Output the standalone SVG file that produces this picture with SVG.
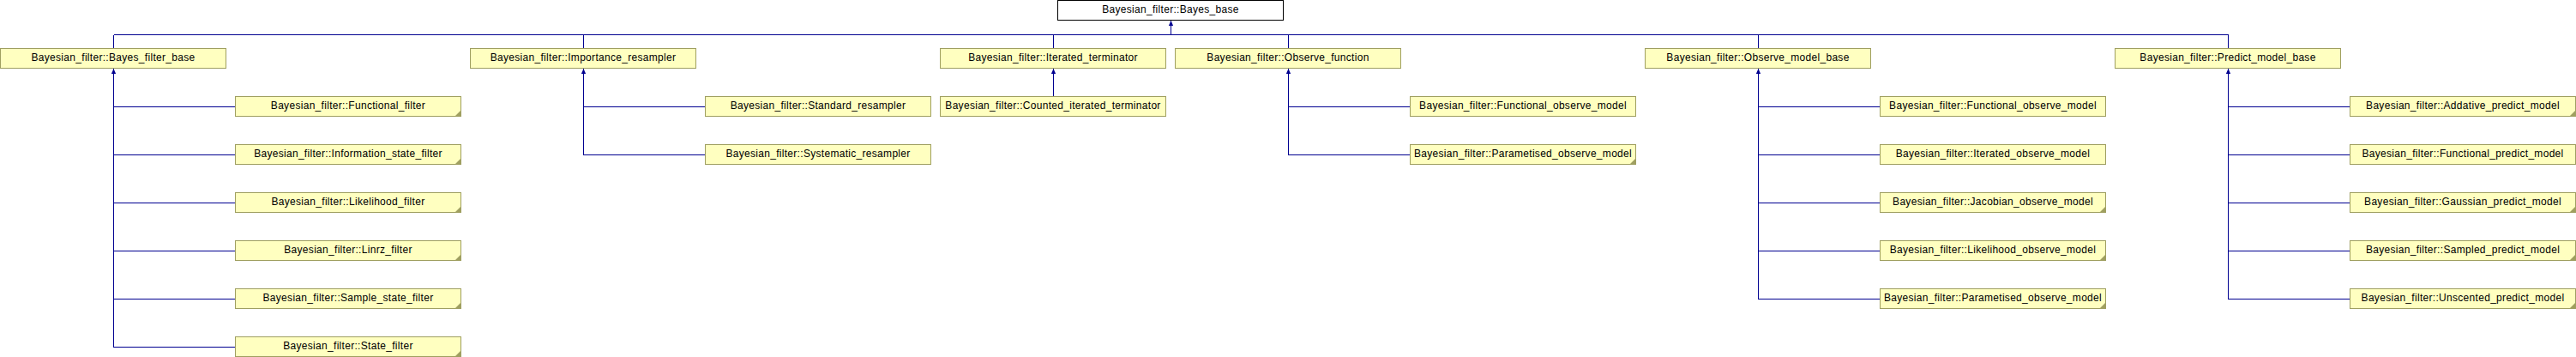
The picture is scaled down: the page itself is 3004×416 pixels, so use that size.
<svg xmlns="http://www.w3.org/2000/svg" xmlns:xlink="http://www.w3.org/1999/xlink" width="3004" height="416" viewBox="0 0 3004 416">
<style>
.n rect{fill:#ffffc0;stroke:#9f9f60;stroke-width:1;shape-rendering:crispEdges}
.root rect{fill:#ffffff;stroke:#000000}
.n text{font-family:"Liberation Sans",Arial,sans-serif;font-size:12px;letter-spacing:0.3px;text-anchor:middle;fill:#000000}
.n polygon{fill:#9f9f60}
.c path{fill:none;stroke:#000090;stroke-width:1;shape-rendering:crispEdges}
.c use{fill:#000090}
</style>
<defs>
<polygon id="arr" points="0,0 2.6,6 -2.6,6"/>
</defs>
<rect width="3004" height="416" fill="#ffffff"/>
<g id="connectors" class="c">
<path d="M1365.5,24V40.5M132.5,40.5H2598.5M132.5,40.5V56M680.5,40.5V56M1228.5,40.5V56M1502.5,40.5V56M2050.5,40.5V56M2598.5,40.5V56"/>
<path d="M132.5,80V404.5M132.5,124.5H274M132.5,180.5H274M132.5,236.5H274M132.5,292.5H274M132.5,348.5H274M132.5,404.5H274"/>
<path d="M680.5,80V180.5M680.5,124.5H822M680.5,180.5H822"/>
<path d="M1228.5,80V112"/>
<path d="M1502.5,80V180.5M1502.5,124.5H1644M1502.5,180.5H1644"/>
<path d="M2050.5,80V348.5M2050.5,124.5H2192M2050.5,180.5H2192M2050.5,236.5H2192M2050.5,292.5H2192M2050.5,348.5H2192"/>
<path d="M2598.5,80V348.5M2598.5,124.5H2740M2598.5,180.5H2740M2598.5,236.5H2740M2598.5,292.5H2740M2598.5,348.5H2740"/>
<use xlink:href="#arr" x="1365.5" y="24"/>
<use xlink:href="#arr" x="132.5" y="80"/>
<use xlink:href="#arr" x="680.5" y="80"/>
<use xlink:href="#arr" x="1228.5" y="80"/>
<use xlink:href="#arr" x="1502.5" y="80"/>
<use xlink:href="#arr" x="2050.5" y="80"/>
<use xlink:href="#arr" x="2598.5" y="80"/>
</g>
<g id="bayes_base" class="n root"><rect x="1233.5" y="0.5" width="263" height="23"/><text x="1365" y="15">Bayesian_filter::Bayes_base</text></g>
<g id="bayes_filter_base" class="n"><rect x="0.5" y="56.5" width="263" height="23"/><text x="132" y="71">Bayesian_filter::Bayes_filter_base</text></g>
<g id="importance_resampler" class="n"><rect x="548.5" y="56.5" width="263" height="23"/><text x="680" y="71">Bayesian_filter::Importance_resampler</text></g>
<g id="iterated_terminator" class="n"><rect x="1096.5" y="56.5" width="263" height="23"/><text x="1228" y="71">Bayesian_filter::Iterated_terminator</text></g>
<g id="observe_function" class="n"><rect x="1370.5" y="56.5" width="263" height="23"/><text x="1502" y="71">Bayesian_filter::Observe_function</text></g>
<g id="observe_model_base" class="n"><rect x="1918.5" y="56.5" width="263" height="23"/><text x="2050" y="71">Bayesian_filter::Observe_model_base</text></g>
<g id="predict_model_base" class="n"><rect x="2466.5" y="56.5" width="263" height="23"/><text x="2598" y="71">Bayesian_filter::Predict_model_base</text></g>
<g id="functional_filter" class="n"><rect x="274.5" y="112.5" width="263" height="23"/><text x="406" y="127">Bayesian_filter::Functional_filter</text><polygon points="537,129 537,135 531,135"/></g>
<g id="information_state_filter" class="n"><rect x="274.5" y="168.5" width="263" height="23"/><text x="406" y="183">Bayesian_filter::Information_state_filter</text><polygon points="537,185 537,191 531,191"/></g>
<g id="likelihood_filter" class="n"><rect x="274.5" y="224.5" width="263" height="23"/><text x="406" y="239">Bayesian_filter::Likelihood_filter</text><polygon points="537,241 537,247 531,247"/></g>
<g id="linrz_filter" class="n"><rect x="274.5" y="280.5" width="263" height="23"/><text x="406" y="295">Bayesian_filter::Linrz_filter</text><polygon points="537,297 537,303 531,303"/></g>
<g id="sample_state_filter" class="n"><rect x="274.5" y="336.5" width="263" height="23"/><text x="406" y="351">Bayesian_filter::Sample_state_filter</text><polygon points="537,353 537,359 531,359"/></g>
<g id="state_filter" class="n"><rect x="274.5" y="392.5" width="263" height="23"/><text x="406" y="407">Bayesian_filter::State_filter</text><polygon points="537,409 537,415 531,415"/></g>
<g id="standard_resampler" class="n"><rect x="822.5" y="112.5" width="263" height="23"/><text x="954" y="127">Bayesian_filter::Standard_resampler</text></g>
<g id="systematic_resampler" class="n"><rect x="822.5" y="168.5" width="263" height="23"/><text x="954" y="183">Bayesian_filter::Systematic_resampler</text></g>
<g id="counted_iterated_terminator" class="n"><rect x="1096.5" y="112.5" width="263" height="23"/><text x="1228" y="127">Bayesian_filter::Counted_iterated_terminator</text></g>
<g id="functional_observe_model_a" class="n"><rect x="1644.5" y="112.5" width="263" height="23"/><text x="1776" y="127">Bayesian_filter::Functional_observe_model</text></g>
<g id="parametised_observe_model_a" class="n"><rect x="1644.5" y="168.5" width="263" height="23"/><text x="1776" y="183">Bayesian_filter::Parametised_observe_model</text><polygon points="1907,185 1907,191 1901,191"/></g>
<g id="functional_observe_model_b" class="n"><rect x="2192.5" y="112.5" width="263" height="23"/><text x="2324" y="127">Bayesian_filter::Functional_observe_model</text></g>
<g id="iterated_observe_model" class="n"><rect x="2192.5" y="168.5" width="263" height="23"/><text x="2324" y="183">Bayesian_filter::Iterated_observe_model</text></g>
<g id="jacobian_observe_model" class="n"><rect x="2192.5" y="224.5" width="263" height="23"/><text x="2324" y="239">Bayesian_filter::Jacobian_observe_model</text><polygon points="2455,241 2455,247 2449,247"/></g>
<g id="likelihood_observe_model" class="n"><rect x="2192.5" y="280.5" width="263" height="23"/><text x="2324" y="295">Bayesian_filter::Likelihood_observe_model</text><polygon points="2455,297 2455,303 2449,303"/></g>
<g id="parametised_observe_model_b" class="n"><rect x="2192.5" y="336.5" width="263" height="23"/><text x="2324" y="351">Bayesian_filter::Parametised_observe_model</text><polygon points="2455,353 2455,359 2449,359"/></g>
<g id="addative_predict_model" class="n"><rect x="2740.5" y="112.5" width="263" height="23"/><text x="2872" y="127">Bayesian_filter::Addative_predict_model</text><polygon points="3003,129 3003,135 2997,135"/></g>
<g id="functional_predict_model" class="n"><rect x="2740.5" y="168.5" width="263" height="23"/><text x="2872" y="183">Bayesian_filter::Functional_predict_model</text></g>
<g id="gaussian_predict_model" class="n"><rect x="2740.5" y="224.5" width="263" height="23"/><text x="2872" y="239">Bayesian_filter::Gaussian_predict_model</text><polygon points="3003,241 3003,247 2997,247"/></g>
<g id="sampled_predict_model" class="n"><rect x="2740.5" y="280.5" width="263" height="23"/><text x="2872" y="295">Bayesian_filter::Sampled_predict_model</text><polygon points="3003,297 3003,303 2997,303"/></g>
<g id="unscented_predict_model" class="n"><rect x="2740.5" y="336.5" width="263" height="23"/><text x="2872" y="351">Bayesian_filter::Unscented_predict_model</text><polygon points="3003,353 3003,359 2997,359"/></g>
</svg>
